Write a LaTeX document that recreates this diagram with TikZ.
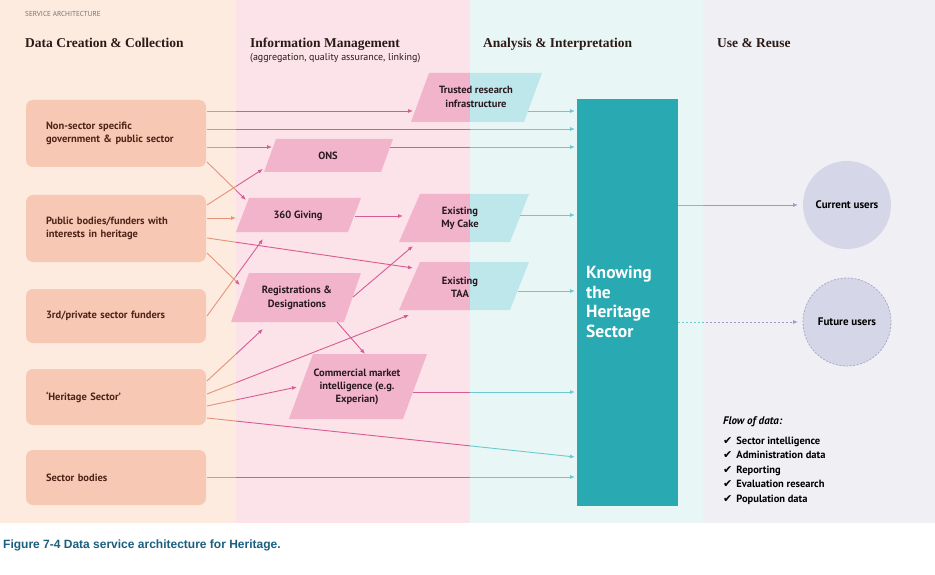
\documentclass[tikz,border=0pt]{standalone}
\usepackage{fontspec}
\setmainfont{PT Sans}
\newfontfamily\hdrfont{Liberation Serif}
\newfontfamily\capfont{Liberation Sans}
\newfontfamily\symfont{DejaVu Sans}
\usetikzlibrary{arrows.meta}
\definecolor{bgA}{HTML}{FDEBDF}
\definecolor{bgB}{HTML}{FCE2E9}
\definecolor{bgC}{HTML}{E9F6F6}
\definecolor{bgD}{HTML}{EFEFF4}
\definecolor{boxc}{HTML}{F7C8B4}
\definecolor{boxtext}{HTML}{4D2418}
\definecolor{parpink}{HTML}{F2B4CA}
\definecolor{parteal}{HTML}{BEE7EB}
\definecolor{partext}{HTML}{2A1A20}
\definecolor{tealbox}{HTML}{29A9B1}
\definecolor{circc}{HTML}{D6D6E9}
\definecolor{circline}{HTML}{A9A9CC}
\definecolor{lineA}{HTML}{E4937A}
\definecolor{lineB}{HTML}{D65C93}
\definecolor{lineC}{HTML}{6EC8CF}
\definecolor{lineD}{HTML}{9A9BC9}
\definecolor{capc}{HTML}{1B5F80}
\definecolor{hdrc}{HTML}{2B1A16}
\newcommand\pTrust{(411,122) -- (429,73) -- (542,73) -- (524,122) -- cycle}
\newcommand\pCake{(399,242) -- (420,194) -- (529,194) -- (510,242) -- cycle}
\newcommand\pTaa{(399,310) -- (420,262) -- (529,262) -- (510,310) -- cycle}
\newcommand\allconnectors{%
  \draw[conn] (s1) -- (t1);
  \draw[conn] (s2) -- (t2);
  \draw[conn] (s3) -- (t3);
  \draw[conn] (s4) -- (t4);
  \draw[conn] (s5) -- (t5);
  \draw[conn] (s6) -- (t6);
  \draw[conn] (s7) -- (t7);
  \draw[conn] (s8) -- (t8);
  \draw[conn] (s9) -- (t9);
  \draw[conn] (s10) -- (t10);
  \draw[conn] (s11) -- (t11);
  \draw[conn] (s12) -- (t12);
  \draw[conn] (s13) -- (t13);
  \draw[conn] (s14) -- (t14);
  \draw[conn] (s15) -- (t15);
  \draw[conn] (s16) -- (t16);
  \draw[conn] (s17) -- (t17);
  \draw[conn] (s18) -- (t18);
  \draw[conn] (s19) -- (t19);
  \draw[conn] (s20) -- (t20);
  \draw[conn] (s21) -- (t21);
  \draw[conn] (s22) -- (t22);
  \draw[conn] (s23) -- (t23);
  \draw[conn,dash pattern=on 2pt off 2pt] (s24) -- (t24);
}
\begin{document}
\begin{tikzpicture}[x=1pt,y=-1pt,
  lbox/.style={fill=boxc, rounded corners=7pt, text width=140pt, inner xsep=20pt,
    align=left, font=\bfseries\fontsize{10.5}{13}\selectfont, text=boxtext},
  ptext/.style={align=center, font=\bfseries\fontsize{10.5}{13.3}\selectfont, text=partext, inner sep=0pt},
  hdr/.style={anchor=base west, inner sep=0pt, font=\hdrfont\bfseries\fontsize{13.5}{16}\selectfont, text=hdrc},
  conn/.style={line width=0.9pt, -{Latex[length=5pt,width=4pt]}},
  legend/.style={anchor=base west, inner sep=0pt, font=\bfseries\fontsize{10.5}{12}\selectfont, text=black},
  usr/.style={circle, fill=circc, minimum size=88pt, inner sep=0pt, font=\bfseries\fontsize{11}{13}\selectfont, text=black}]
\useasboundingbox (0,0) rectangle (935,575);
\fill[white] (0,0) rectangle (935,575);
% column backgrounds
\fill[bgA] (0,0) rectangle (236,523);
\fill[bgB] (236,0) rectangle (470,523);
\fill[bgC] (470,0) rectangle (703,523);
\fill[bgD] (703,0) rectangle (935,523);
% headers
\node[anchor=base west, inner sep=0pt, font=\fontsize{7.2}{8}\selectfont, text=black!55] (svc) at (25,17) {SERVICE ARCHITECTURE};
\node[hdr] (h1) at (25,48) {Data Creation \& Collection};
\node[hdr] (h2) at (250,48) {Information Management};
\node[anchor=base west, inner sep=0pt, font=\fontsize{10}{11}\selectfont, text=hdrc] (h2s) at (250,61) {(aggregation, quality assurance, linking)};
\node[hdr] (h3) at (483,48) {Analysis \& Interpretation};
\node[hdr] (h4) at (717,48) {Use \& Reuse};
% left boxes
\node[lbox, minimum height=67pt] (b1) at (116,133.5) {Non-sector specific\\government \& public sector};
\node[lbox, minimum height=67pt] (b2) at (116,228.5) {Public bodies/funders with\\interests in heritage};
\node[lbox, minimum height=54pt] (b3) at (116,316) {3rd/private sector funders};
\node[lbox, minimum height=56pt] (b4) at (116,397) {`Heritage Sector'};
\node[lbox, minimum height=55pt] (b5) at (116,477.5) {Sector bodies};
% parallelograms
\begin{scope}
  \clip (0,0) rectangle (470,575);
  \fill[parpink] \pTrust; \fill[parpink] \pCake; \fill[parpink] \pTaa;
\end{scope}
\begin{scope}
  \clip (470,0) rectangle (935,575);
  \fill[parteal] \pTrust; \fill[parteal] \pCake; \fill[parteal] \pTaa;
\end{scope}
\fill[parpink] (264,172) -- (276,139) -- (393,139) -- (381,172) -- cycle;
\fill[parpink] (236,232) -- (249,198) -- (361,198) -- (348,232) -- cycle;
\fill[parpink] (231,322) -- (249,273) -- (361,273) -- (344,322) -- cycle;
\fill[parpink] (289,419) -- (313,354) -- (427,354) -- (403,419) -- cycle;
\node[ptext] (trust) at (476,97) {Trusted research\\infrastructure};
\node[ptext] (ons) at (328,156) {ONS};
\node[ptext] (giving) at (298,216) {360 Giving};
\node[ptext] (cake) at (460,218) {Existing\\My Cake};
\node[ptext] (taa) at (460,287) {Existing\\TAA};
\node[ptext] (reg) at (297,298) {Registrations \&\\Designations};
\node[ptext] (comm) at (357,387) {Commercial market\\intelligence (e.g.\\Experian)};
% central box
\node[fill=tealbox, minimum width=101pt, minimum height=406pt, inner sep=0pt] (khs) at (627.5,302.5) {};
\node[anchor=west, inner sep=0pt, align=left, text=white, font=\bfseries\fontsize{17.5}{19.5}\selectfont] (khstext) at (586,302) {Knowing\\the\\Heritage\\Sector};
% users
\node[usr] (cur) at (847,205) {Current users};
\node[usr, draw=circline, line width=0.8pt, dash pattern=on 2pt off 1.5pt] (fut) at (847,322) {Future users};
% connector end points
\coordinate (s1) at (207,111);  \coordinate (t1) at (413,111);
\coordinate (s2) at (207,129);  \coordinate (t2) at (575,129);
\coordinate (s3) at (207,147);  \coordinate (t3) at (272,147);
\coordinate (s4) at (390,147);  \coordinate (t4) at (575,147);
\coordinate (s5) at (207,162);  \coordinate (t5) at (246,200);
\coordinate (s6) at (207,205);  \coordinate (t6) at (263,169);
\coordinate (s7) at (207,218);  \coordinate (t7) at (236,218);
\coordinate (s8) at (207,238);  \coordinate (t8) at (413,268);
\coordinate (s9) at (207,253);  \coordinate (t9) at (240,285);
\coordinate (s10) at (207,316); \coordinate (t10) at (263,239);
\coordinate (s11) at (355,216); \coordinate (t11) at (403,216);
\coordinate (s12) at (520,215); \coordinate (t12) at (575,215);
\coordinate (s13) at (353,297); \coordinate (t13) at (413,246);
\coordinate (s14) at (337,322); \coordinate (t14) at (365,354);
\coordinate (s15) at (518,291); \coordinate (t15) at (575,291);
\coordinate (s16) at (207,381); \coordinate (t16) at (263,329);
\coordinate (s17) at (207,394); \coordinate (t17) at (409,315);
\coordinate (s18) at (207,406); \coordinate (t18) at (297,387);
\coordinate (s19) at (207,418); \coordinate (t19) at (575,457);
\coordinate (s20) at (207,477); \coordinate (t20) at (575,477);
\coordinate (s21) at (413,392); \coordinate (t21) at (575,392);
\coordinate (s22) at (528,111); \coordinate (t22) at (575,111);
\coordinate (s23) at (khs.east |- cur); \coordinate (t23) at (798,205);
\coordinate (s24) at (khs.east |- fut); \coordinate (t24) at (798,322);
% connectors coloured by column
\begin{scope}[color=lineA]
  \clip (0,0) rectangle (236,575);
  \allconnectors
\end{scope}
\begin{scope}[color=lineB]
  \clip (236,0) rectangle (470,575);
  \allconnectors
\end{scope}
\begin{scope}[color=lineC]
  \clip (470,0) rectangle (703,575);
  \allconnectors
\end{scope}
\begin{scope}[color=lineD]
  \clip (703,0) rectangle (935,575);
  \allconnectors
\end{scope}
% legend
\node[legend, font=\bfseries\itshape\fontsize{11}{12}\selectfont] (legt) at (723,424) {Flow of data:};
\node[legend] (l1) at (723,444) {{\symfont\fontsize{11}{12}\selectfont ✔}\hspace{4pt}Sector intelligence};
\node[legend] (l2) at (723,458.5) {{\symfont\fontsize{11}{12}\selectfont ✔}\hspace{4pt}Administration data};
\node[legend] (l3) at (723,473) {{\symfont\fontsize{11}{12}\selectfont ✔}\hspace{4pt}Reporting};
\node[legend] (l4) at (723,487.5) {{\symfont\fontsize{11}{12}\selectfont ✔}\hspace{4pt}Evaluation research};
\node[legend] (l5) at (723,502) {{\symfont\fontsize{11}{12}\selectfont ✔}\hspace{4pt}Population data};
% caption
\node[anchor=base west, inner sep=0pt, text=capc, font=\capfont\bfseries\fontsize{12}{14}\selectfont] (cap) at (3,548) {Figure 7-4 Data service architecture for Heritage.};
\end{tikzpicture}
\end{document}
